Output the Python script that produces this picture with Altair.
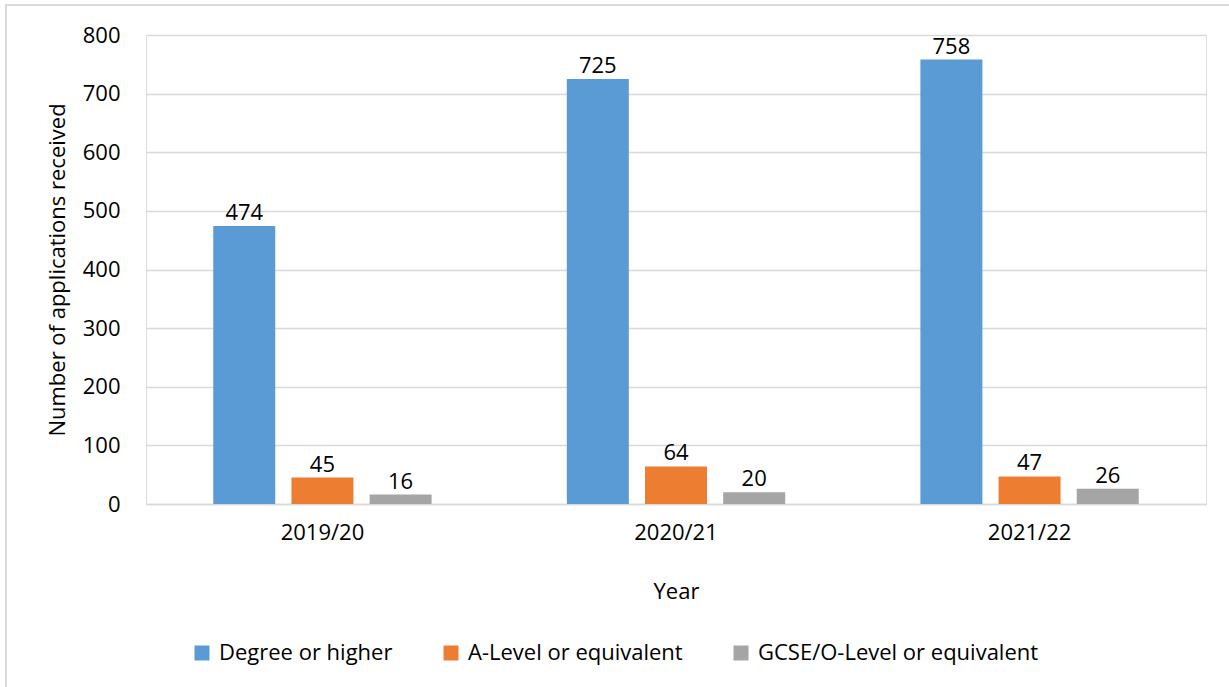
import altair as alt
import pandas as pd

# Applications received per academic year, by highest qualification
years = ["2019/20", "2020/21", "2021/22"]
qualifications = ["Degree or higher", "A-Level or equivalent", "GCSE/O-Level or equivalent"]
degree = [474, 725, 758]
a_level = [45, 64, 47]
gcse = [16, 20, 26]
colors = ["#5B9BD5", "#ED7D31", "#A5A5A5"]

rows = []
for i, y in enumerate(years):
    for q, vals in zip(qualifications, [degree, a_level, gcse]):
        rows.append({"Year": y, "Qualification": q, "Applications": vals[i]})
df = pd.DataFrame(rows)

FONT = "Open Sans"
FS = 22
W, H = 1060, 469
LEFT, TOP = 146, 35

x_enc = alt.X(
    "Year:N",
    sort=years,
    scale=alt.Scale(paddingInner=0.382, paddingOuter=0.19),
    axis=alt.Axis(
        title="Year",
        labelAngle=0,
        labelFontSize=FS,
        labelPadding=18,
        titleFontSize=FS,
        titleFontWeight="normal",
        titlePadding=38,
        ticks=False,
        domainColor="#D9D9D9",
        domainWidth=1.5,
        labelColor="#000000",
        titleColor="#000000",
    ),
)
xoff = alt.XOffset(
    "Qualification:N",
    sort=qualifications,
    scale=alt.Scale(paddingInner=0.205, paddingOuter=0),
)
y_enc = alt.Y(
    "Applications:Q",
    scale=alt.Scale(domain=[0, 800], nice=False),
    axis=alt.Axis(
        title="Number of applications received",
        values=list(range(0, 801, 100)),
        labelFontSize=FS,
        labelPadding=26,
        titleFontSize=FS,
        titleFontWeight="normal",
        titleX=-89,
        titleBaseline="middle",
        ticks=False,
        domain=False,
        gridColor="#D9D9D9",
        gridWidth=1.5,
        labelColor="#000000",
        titleColor="#000000",
    ),
)

bars = alt.Chart(df).mark_bar(size=62).encode(
    x=x_enc,
    xOffset=xoff,
    y=y_enc,
    color=alt.Color(
        "Qualification:N",
        sort=qualifications,
        scale=alt.Scale(domain=qualifications, range=colors),
        legend=alt.Legend(
            title=None,
            orient="none",
            direction="horizontal",
            legendX=45,
            legendY=607,
            symbolType="square",
            symbolSize=225,
            symbolStrokeWidth=0,
            labelFontSize=FS,
            labelColor="#000000",
            labelLimit=0,
            columnPadding=47,
            labelOffset=6,
        ),
    ),
)

labels = alt.Chart(df).mark_text(
    baseline="bottom", dy=-1, fontSize=FS, font=FONT, color="#000000"
).encode(
    x=alt.X("Year:N", sort=years),
    xOffset=alt.XOffset("Qualification:N", sort=qualifications),
    y="Applications:Q",
    text="Applications:Q",
)

# outer frame around the whole figure
frame = alt.Chart(pd.DataFrame({"k": [0]})).mark_rect(
    fill=None, stroke="#D9D9D9", strokeWidth=2, clip=False
).encode(
    x=alt.value(6 - LEFT),
    x2=alt.value(1229 - LEFT + 10),
    y=alt.value(5 - TOP),
    y2=alt.value(687 - TOP + 10),
)

chart = alt.layer(frame, bars, labels).properties(
    width=W,
    height=H,
    autosize=alt.AutoSizeParams(type="none"),
    padding={"left": LEFT, "top": TOP, "right": 1229 - LEFT - W, "bottom": 687 - TOP - H},
    background="#FFFFFF",
).configure_view(stroke=None).configure(font=FONT)

chart.save("out.html", embed_options={"renderer": "svg", "actions": False})
